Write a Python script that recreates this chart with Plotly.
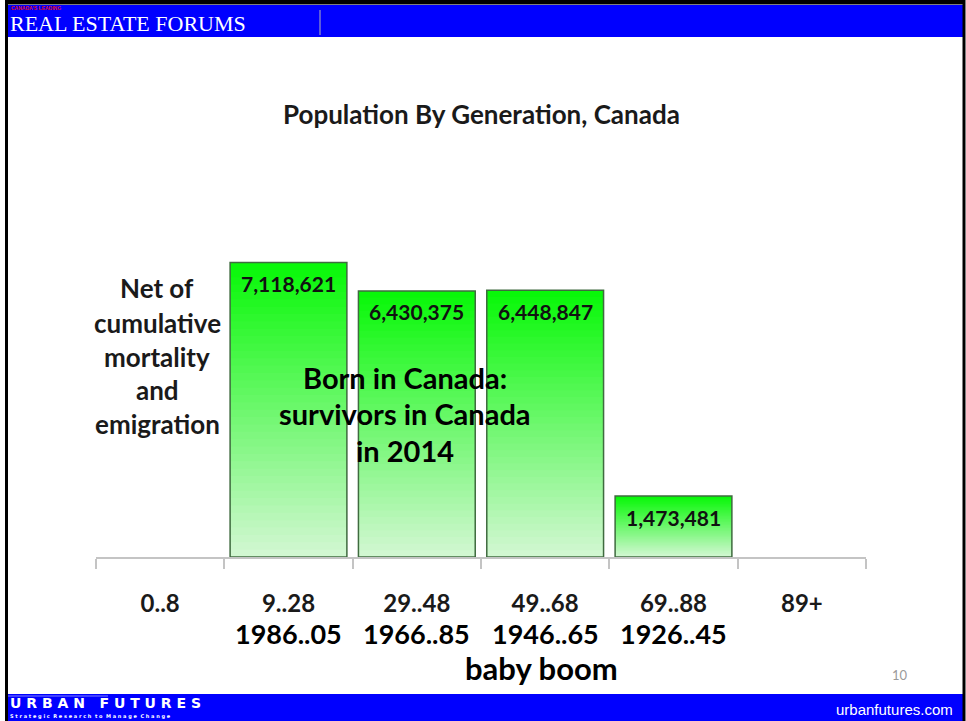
import plotly.graph_objects as go

# ---- data ----
age_groups = ["0..8", "9..28", "29..48", "49..68", "69..88", "89+"]
birth_years = ["", "1986..05", "1966..85", "1946..65", "1926..45", ""]
population = [None, 7118621, 6430375, 6448847, 1473481, None]
value_labels = ["", "7,118,621", "6,430,375", "6,448,847", "1,473,481", ""]

W, H = 966, 721
L, R, T, B = 96, 866, 226, 557
YMAX = 8_000_000


def px(x):
    return (x - L) / (R - L)


def py(y):
    return (B - y) / (B - T)


FONT = "Lato"
fig = go.Figure()

# gradient bars built as overlaid, overlapping slices of each bar
N = 40
bottom_c = (212, 247, 212)
top_c = (6, 248, 6)
for i in range(N):
    f = (i + 0.5) / N
    c = tuple(round(bottom_c[k] + (top_c[k] - bottom_c[k]) * f) for k in range(3))
    fig.add_trace(go.Bar(
        x=age_groups,
        y=[None if v is None else v * (N - i) / N for v in population],
        base=[None if v is None else v * i / N for v in population],
        marker=dict(color="rgb(%d,%d,%d)" % c, line=dict(width=0)),
        hoverinfo="skip", showlegend=False,
    ))
# outline
fig.add_trace(go.Bar(
    x=age_groups, y=population,
    marker=dict(color="rgba(0,0,0,0)", line=dict(color="#3f6b3f", width=1.5)),
    showlegend=False,
))

ann = []
# value labels inside bars
for cat, v, lab in zip(age_groups, population, value_labels):
    if v is None:
        continue
    ann.append(dict(x=cat, y=v, xref="x", yref="y", text="<b>%s</b>" % lab,
                    showarrow=False, xanchor="center", yanchor="middle", yshift=-21,
                    font=dict(family=FONT, size=21, color="#111111")))
# birth year line
for cat, yr in zip(age_groups, birth_years):
    if not yr:
        continue
    ann.append(dict(x=cat, y=py(633), xref="x", yref="paper", text="<b>%s</b>" % yr,
                    showarrow=False, xanchor="center", yanchor="middle",
                    font=dict(family=FONT, size=27, color="#000000")))
ann.append(dict(x="49..68", y=py(668), xref="x", yref="paper", text="<b>baby boom</b>",
                showarrow=False, xanchor="center", yanchor="middle", xshift=-4,
                font=dict(family=FONT, size=31, color="#000000")))

# title
ann.append(dict(x=px(481), y=py(114), xref="paper", yref="paper",
                text="<b>Population By Generation, Canada</b>", showarrow=False,
                xanchor="center", yanchor="middle",
                font=dict(family=FONT, size=26, color="#1a1a1a")))

# left label
for txt, yy in zip(["Net of", "cumulative", "mortality", "and", "emigration"],
                   [288, 323, 357, 390, 424]):
    ann.append(dict(x=px(157), y=py(yy), xref="paper", yref="paper",
                    text="<b>%s</b>" % txt, showarrow=False,
                    xanchor="center", yanchor="middle",
                    font=dict(family=FONT, size=26, color="#1a1a1a")))
# centre label
for txt, yy in zip(["Born in Canada:", "survivors in Canada", "in 2014"], [377, 413, 450]):
    ann.append(dict(x=px(405), y=py(yy), xref="paper", yref="paper",
                    text="<b>%s</b>" % txt, showarrow=False,
                    xanchor="center", yanchor="middle",
                    font=dict(family=FONT, size=29, color="#000000")))

# slide decoration texts
ann.append(dict(x=px(8), y=py(23), xref="paper", yref="paper", xanchor="left",
                yanchor="middle", text="REAL ESTATE FORUMS", showarrow=False,
                font=dict(family="Liberation Serif", size=22, color="white")))
ann.append(dict(x=px(9), y=py(8), xref="paper", yref="paper", xanchor="left",
                yanchor="middle", text="<b>CANADA'S LEADING</b>", showarrow=False,
                font=dict(family="Liberation Sans", size=5, color="#e01010")))
ann.append(dict(x=px(8), y=py(703), xref="paper", yref="paper", xanchor="left",
                yanchor="middle", text="<b>U R B A N   F U T U R E S</b>", showarrow=False,
                font=dict(family="DejaVu Sans", size=14, color="white")))
ann.append(dict(x=px(8), y=py(716), xref="paper", yref="paper", xanchor="left",
                yanchor="middle", text="<b>S t r a t e g i c  R e s e a r c h  t o  M a n a g e  C h a n g e</b>",
                showarrow=False, font=dict(family="DejaVu Sans", size=5, color="white")))
ann.append(dict(x=px(955), y=py(709), xref="paper", yref="paper", xanchor="right",
                yanchor="middle", text="urbanfutures.com", showarrow=False,
                font=dict(family="Liberation Sans Narrow, Liberation Sans", size=15, color="white")))
ann.append(dict(x=px(900), y=py(675), xref="paper", yref="paper",
                xanchor="center", yanchor="middle", text="10", showarrow=False,
                font=dict(family=FONT, size=13, color="#9a9a9a")))


def rect(x0, y0, x1, y1, **kw):
    return dict(type="rect", xref="paper", yref="paper", x0=px(x0), x1=px(x1),
                y0=py(y0), y1=py(y1), layer="below", **kw)


shapes = [
    rect(5, 5, 963, 37, fillcolor="#0000ff", line=dict(width=0)),
    rect(5, 694, 963, 721, fillcolor="#0000ff", line=dict(width=0)),
    dict(type="line", xref="paper", yref="paper", x0=px(5), x1=px(963), y0=py(2), y1=py(2),
         line=dict(color="black", width=5)),
    dict(type="line", xref="paper", yref="paper", x0=px(6.5), x1=px(6.5), y0=py(0), y1=py(721),
         line=dict(color="black", width=3)),
    dict(type="line", xref="paper", yref="paper", x0=px(964), x1=px(964), y0=py(0), y1=py(721),
         line=dict(color="black", width=3)),
    dict(type="line", xref="paper", yref="paper", x0=px(320), x1=px(320), y0=py(10), y1=py(35),
         line=dict(color="#7a7ad0", width=1.5)),
    dict(type="line", xref="paper", yref="paper", x0=px(8), x1=px(108), y0=py(696), y1=py(696),
         line=dict(color="#8080ff", width=1)),
]

fig.update_layout(
    width=W, height=H,
    margin=dict(l=L, r=W - R, t=T, b=H - B, pad=0),
    paper_bgcolor="white", plot_bgcolor="white",
    barmode="overlay", bargap=0.09,
    showlegend=False,
    xaxis=dict(type="category", categoryorder="array", categoryarray=age_groups,
               range=[-0.5, 5.5], showline=True, linecolor="#c4c4c4", linewidth=1.5,
               ticks="outside", tickson="boundaries", ticklen=10, tickcolor="#c4c4c4",
               tickwidth=1.5, showgrid=False, zeroline=False,
               tickfont=dict(family=FONT, size=24, color="#1a1a1a"),
               ticklabelstandoff=24,
               tickmode="array", tickvals=age_groups,
               ticktext=["<b>%s</b>" % a for a in age_groups]),
    yaxis=dict(range=[0, YMAX], visible=False, showgrid=False, zeroline=False),
    annotations=ann, shapes=shapes,
)

fig.write_html("out.html", config={"displayModeBar": False},
               post_script="document.body.style.margin='0';document.body.style.overflow='hidden';")
